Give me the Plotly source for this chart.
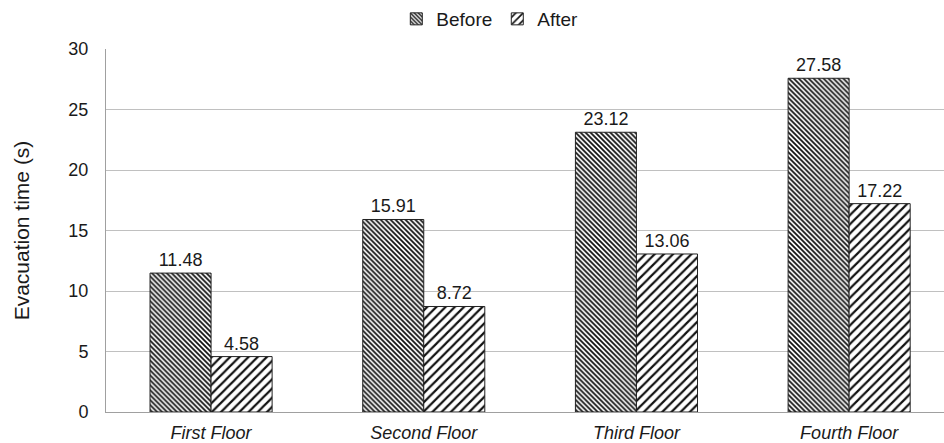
import plotly.graph_objects as go

categories = ["First Floor", "Second Floor", "Third Floor", "Fourth Floor"]
before = [11.48, 15.91, 23.12, 27.58]
after = [4.58, 8.72, 13.06, 17.22]
y_ticks = [0, 5, 10, 15, 20, 25, 30]

xpos = list(range(len(categories)))
font_family = "Liberation Sans, Arial, sans-serif"

fig = go.Figure()
fig.add_trace(go.Bar(
    name="Before", x=xpos, y=before,
    text=[f"{v:.2f}" for v in before], textposition="outside",
    textfont=dict(size=18, color="#1a1a1a"), cliponaxis=False,
    marker=dict(color="white", line=dict(color="#222222", width=1),
                pattern=dict(shape="\\", fgcolor="#111111", bgcolor="white",
                             size=3.5, solidity=0.5, fillmode="replace")),
))
fig.add_trace(go.Bar(
    name="After", x=xpos, y=after,
    text=[f"{v:.2f}" for v in after], textposition="outside",
    textfont=dict(size=18, color="#1a1a1a"), cliponaxis=False,
    marker=dict(color="white", line=dict(color="#222222", width=1),
                pattern=dict(shape="/", fgcolor="#111111", bgcolor="white",
                             size=6.5, solidity=0.33, fillmode="replace")),
))

fig.update_layout(
    width=944, height=443,
    margin=dict(l=106, r=0, t=49, b=31),
    paper_bgcolor="white", plot_bgcolor="white",
    barmode="group", bargap=0.426, bargroupgap=0,
    font=dict(family=font_family, size=18, color="#1a1a1a"),
    legend=dict(orientation="h", x=0.458, xanchor="center", y=1.135, yanchor="top",
                font=dict(size=19), itemwidth=30, traceorder="normal",
                tracegroupgap=0, bgcolor="rgba(0,0,0,0)"),
    xaxis=dict(range=[-0.494, 3.446], tickvals=xpos,
               ticktext=[f"<i>{c}</i>" for c in categories],
               showgrid=False, showline=True, linecolor="#a0a0a0", linewidth=1,
               ticks="outside", ticklen=4, tickcolor="rgba(0,0,0,0)",
               tickfont=dict(size=18), zeroline=False, automargin=False),
    yaxis=dict(range=[0, 30], tickvals=y_ticks, showgrid=True, gridcolor="#c0c0c0",
               gridwidth=1, showline=True, linecolor="#a0a0a0", linewidth=1,
               ticks="outside", ticklen=13, tickcolor="rgba(0,0,0,0)",
               tickfont=dict(size=18), zeroline=False, automargin=False,
               title=dict(text="Evacuation time (s)", font=dict(size=21), standoff=33)),
)

fig.write_html("out.html", config={"displayModeBar": False},
               post_script="document.body.style.margin='0';document.body.style.padding='0';")
